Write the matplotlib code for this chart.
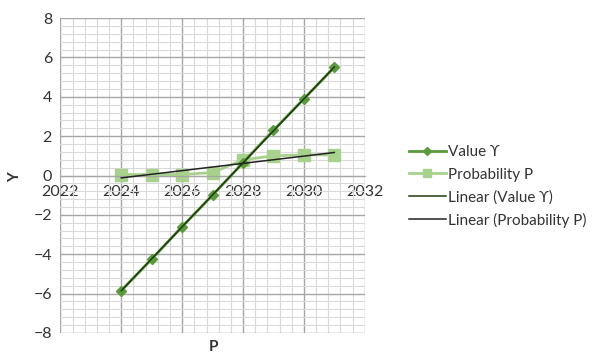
import matplotlib.pyplot as plt
import numpy as np
from matplotlib.ticker import MultipleLocator

years = [2024, 2025, 2026, 2027, 2028, 2029, 2030, 2031]
value_y = [-5.85, -4.25, -2.6, -1.0, 0.65, 2.3, 3.9, 5.5]
probability_p = [0.05, 0.05, 0.05, 0.15, 0.8, 1.0, 1.05, 1.05]

plt.rcParams["font.family"] = ["Lato", "DejaVu Sans"]

fig = plt.figure(figsize=(5.98, 3.56), dpi=100)
ax = fig.add_axes([0.101, 0.065, 0.509, 0.884])

x = np.array(years)

ax.plot(years, value_y, color="#5b9a3c", marker="D", markersize=5,
        linewidth=2, label="Value \u03d2", zorder=3)
ax.plot(years, probability_p, color="#a9d18e", marker="s", markersize=8,
        linewidth=2, label="Probability P", zorder=2)

# least-squares trend lines over the same years
for series, color, name in [(value_y, "#1e3a10", "Linear (Value \u03d2)"),
                            (probability_p, "#222222", "Linear (Probability P)")]:
    slope, intercept = np.polyfit(x, series, 1)
    ax.plot(x, slope * x + intercept, color=color, linewidth=1.1,
            label=name, zorder=4)

ax.set_xlim(2022, 2032)
ax.set_ylim(-8, 8)
ax.xaxis.set_major_locator(MultipleLocator(2))
ax.yaxis.set_major_locator(MultipleLocator(2))
ax.xaxis.set_minor_locator(MultipleLocator(0.4))
ax.yaxis.set_minor_locator(MultipleLocator(0.4))
ax.grid(which="major", color="#a6a6a6", linewidth=1.0)
ax.grid(which="minor", color="#d9d9d9", linewidth=0.8)
ax.set_axisbelow(True)

for side in ["top", "right", "left"]:
    ax.spines[side].set_visible(False)
ax.spines["bottom"].set_position(("data", 0))
ax.spines["bottom"].set_color("#a6a6a6")
ax.tick_params(which="both", length=0, labelsize=11.5, colors="#333333")
ax.tick_params(axis="x", pad=7)
ax.tick_params(axis="y", pad=6)

fig.text(0.357, 0.025, "P", fontweight="bold", fontsize=11,
         color="#333333", ha="center", va="center")
fig.text(0.025, 0.503, "Y", fontweight="bold", fontsize=11,
         color="#333333", ha="center", va="center", rotation=90)

ax.legend(loc="center left", bbox_to_anchor=(1.10, 0.465), frameon=False,
          fontsize=11, handlelength=2.4, labelspacing=0.55, markerscale=0.8,
          handletextpad=0.15, labelcolor="#333333")

fig.savefig("out.png", dpi=100)
